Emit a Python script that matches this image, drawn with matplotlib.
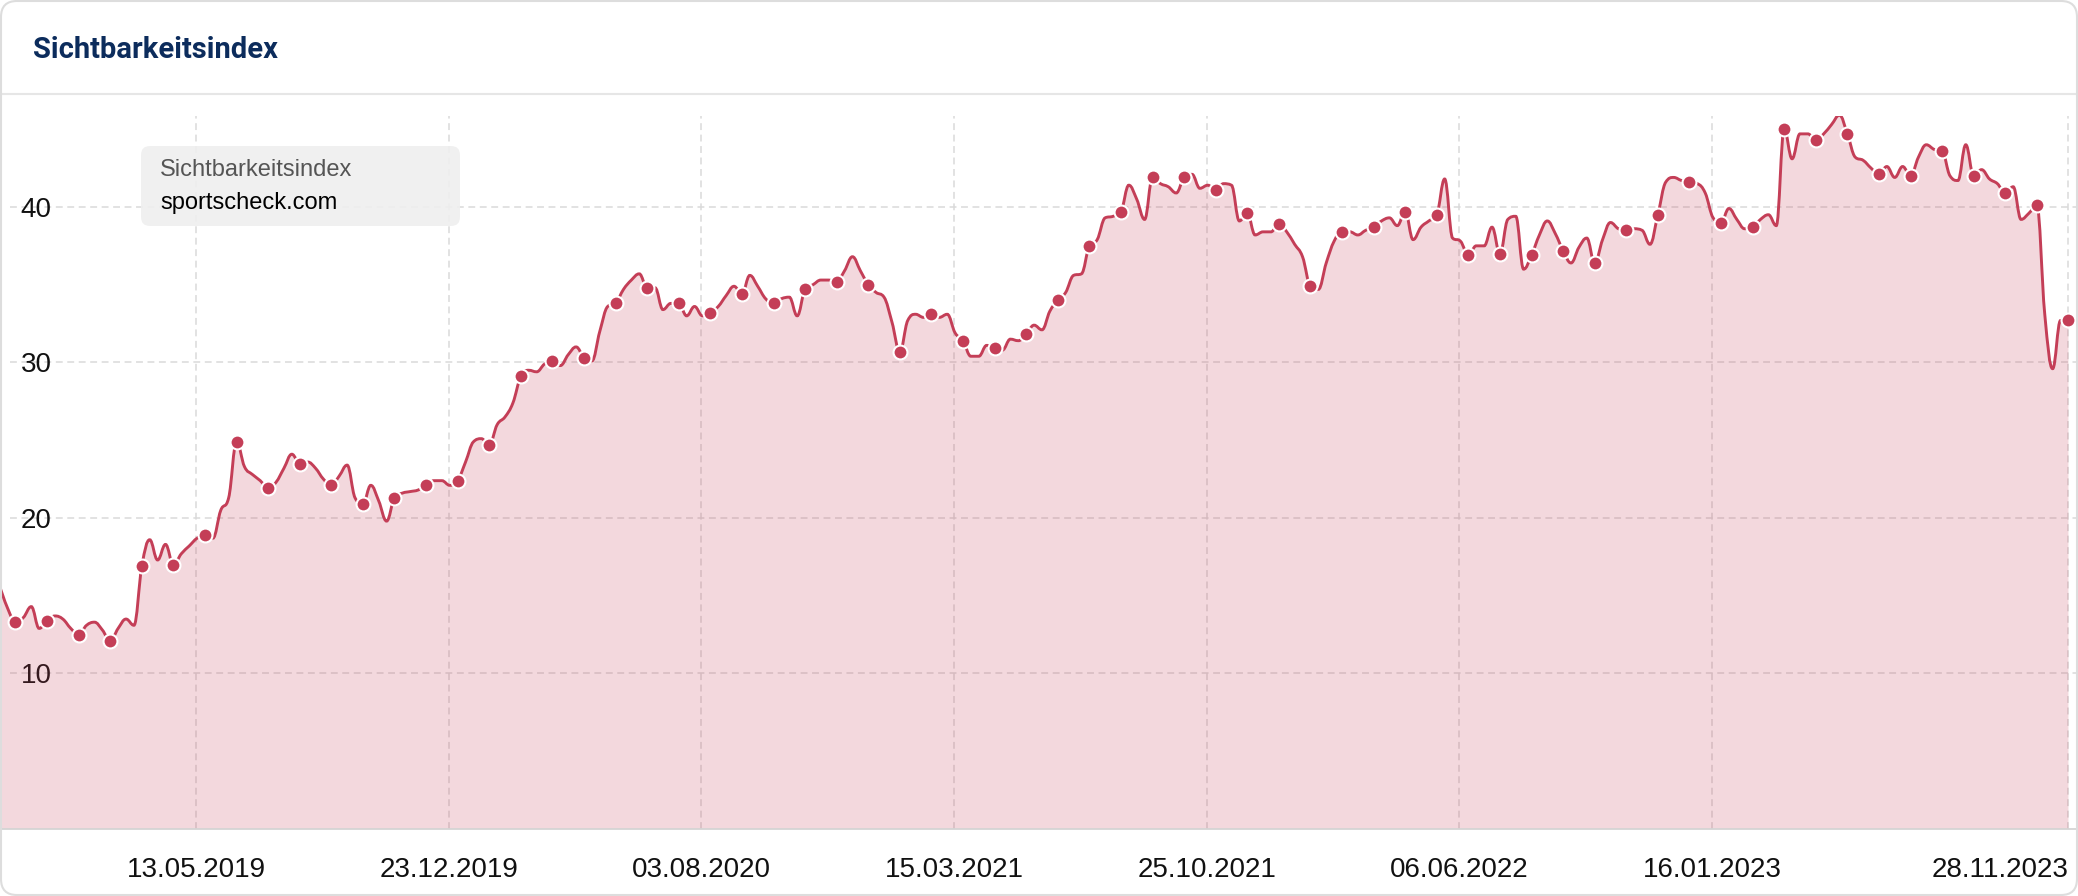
import datetime as dt
import matplotlib
matplotlib.use("Agg")
import matplotlib.pyplot as plt
import matplotlib.dates as mdates
from matplotlib.path import Path
from matplotlib.patches import PathPatch, FancyBboxPatch
from matplotlib.lines import Line2D

# weekly visibility index, sportscheck.com
start = dt.date(2018, 11, 20)
values = [
    15.6, 14.2, 13.3, 13.6, 14.3, 12.9, 13.4, 13.7, 13.5, 12.9,
    12.5, 13.1, 13.3, 12.8, 12.1, 12.9, 13.5, 13.1, 16.9, 18.6,
    17.3, 18.3, 17.0, 17.7, 18.2, 18.7, 18.9, 18.7, 20.5, 21.3,
    24.9, 23.3, 22.8, 22.4, 21.9, 22.3, 23.2, 24.1, 23.5, 23.6,
    23.2, 22.5, 22.1, 22.7, 23.4, 21.3, 20.9, 22.1, 21.1, 19.8,
    21.3, 21.6, 21.7, 21.8, 22.1, 22.4, 22.4, 22.1, 22.4, 23.6,
    24.9, 25.1, 24.7, 26.0, 26.5, 27.4, 29.1, 29.5, 29.4, 29.9,
    30.1, 29.8, 30.5, 31.0, 30.3, 30.1, 32.0, 33.6, 33.8, 34.7,
    35.3, 35.7, 34.8, 34.8, 33.4, 33.8, 33.8, 33.0, 33.6, 33.0,
    33.2, 33.6, 34.3, 34.9, 34.4, 35.6, 34.9, 34.1, 33.8, 34.1,
    34.2, 33.0, 34.7, 35.0, 35.3, 35.3, 35.2, 35.9, 36.8, 35.9,
    35.0, 34.5, 34.2, 32.6, 30.7, 32.7, 33.1, 32.9, 33.1, 32.9,
    33.1, 31.9, 31.4, 30.4, 30.4, 31.1, 30.9, 30.8, 31.5, 31.4,
    31.8, 32.4, 32.1, 33.3, 34.0, 34.5, 35.6, 35.7, 37.5, 37.9,
    39.3, 39.4, 39.7, 41.4, 40.5, 39.2, 41.9, 41.5, 41.3, 40.9,
    41.9, 42.1, 41.2, 41.4, 41.1, 41.5, 41.4, 39.1, 39.6, 38.2,
    38.4, 38.4, 38.9, 38.4, 37.6, 36.8, 34.9, 34.7, 36.4, 37.8,
    38.4, 38.4, 38.2, 38.5, 38.7, 39.1, 39.3, 38.8, 39.7, 37.9,
    38.7, 39.1, 39.5, 41.8, 38.0, 37.8, 36.9, 37.5, 37.5, 38.7,
    37.0, 39.2, 39.4, 36.0, 36.9, 38.2, 39.1, 38.3, 37.2, 36.4,
    37.4, 38.0, 36.4, 37.9, 39.0, 38.6, 38.5, 38.6, 38.5, 37.6,
    39.5, 41.6, 41.9, 41.7, 41.6, 41.5, 40.9, 39.3, 39.0, 39.9,
    39.2, 38.6, 38.7, 39.2, 39.5, 38.8, 45.0, 43.1, 44.7, 44.7,
    44.3, 44.7, 45.3, 45.9, 44.7, 43.2, 43.0, 42.5, 42.1, 42.6,
    41.9, 42.6, 42.0, 43.2, 44.0, 43.7, 43.6, 42.0, 41.7, 44.0,
    42.0, 42.4, 41.8, 41.5, 40.9, 41.3, 39.2, 39.6, 40.1, 33.1,
    29.6, 32.7, 32.7,
]
dates = [start + dt.timedelta(weeks=k) for k in range(len(values))]
marker_idx = list(range(2, len(values), 4))

tick_dates = [dt.date(2019, 5, 13), dt.date(2019, 12, 23), dt.date(2020, 8, 3),
              dt.date(2021, 3, 15), dt.date(2021, 10, 25), dt.date(2022, 6, 6),
              dt.date(2023, 1, 16), dt.date(2023, 11, 28)]
tick_labels = [d.strftime("%d.%m.%Y") for d in tick_dates]
y_ticks = [10, 20, 30, 40]

RED = "#c43e57"
GRID = "#dadada"


def spline_verts(x, y, smoothing=1.5):
    # same control point rule as a Highcharts spline
    denom = smoothing + 1
    n = len(x)
    lc, rc = [None] * n, [None] * n
    for i in range(n):
        if 0 < i < n - 1:
            lx = (smoothing * x[i] + x[i - 1]) / denom
            ly = (smoothing * y[i] + y[i - 1]) / denom
            rx = (smoothing * x[i] + x[i + 1]) / denom
            ry = (smoothing * y[i] + y[i + 1]) / denom
            corr = (ry - ly) * (rx - x[i]) / (rx - lx) + y[i] - ry
            ly += corr
            ry += corr
            if ly > y[i - 1] and ly > y[i]:
                ly = max(y[i - 1], y[i]); ry = 2 * y[i] - ly
            elif ly < y[i - 1] and ly < y[i]:
                ly = min(y[i - 1], y[i]); ry = 2 * y[i] - ly
            if ry > y[i + 1] and ry > y[i]:
                ry = max(y[i + 1], y[i]); ly = 2 * y[i] - ry
            elif ry < y[i + 1] and ry < y[i]:
                ry = min(y[i + 1], y[i]); ly = 2 * y[i] - ry
            lc[i], rc[i] = (lx, ly), (rx, ry)
        else:
            lc[i] = rc[i] = (x[i], y[i])
    verts, codes = [(x[0], y[0])], [Path.MOVETO]
    for i in range(1, n):
        verts += [rc[i - 1], lc[i], (x[i], y[i])]
        codes += [Path.CURVE4] * 3
    return verts, codes


W, H = 2078, 896
fig = plt.figure(figsize=(W / 100, H / 100), dpi=100)
ax = fig.add_axes([0, (H - 829) / H, 1, 713 / H])

xs = mdates.date2num(dates)
x0 = mdates.date2num(start) + 0.27
ax.set_xlim(x0, x0 + W / 1.128)
ax.set_ylim(0, 45.85)

verts, codes = spline_verts(list(xs), values)
line = PathPatch(Path(verts, codes), fill=False, edgecolor=RED, lw=2.1, zorder=4)
area = PathPatch(Path(verts + [(xs[-1], 0), (xs[0], 0), (xs[0], 0)],
                      codes + [Path.LINETO, Path.LINETO, Path.CLOSEPOLY]),
                 facecolor=RED, alpha=0.2, edgecolor="none", zorder=2)
ax.add_patch(area)
ax.add_patch(line)
ax.plot(xs[marker_idx], [values[k] for k in marker_idx], "o", ms=10,
        mfc=RED, mec="white", mew=1.5, zorder=5)

for yt in y_ticks:
    ax.axhline(yt, xmin=0.005, color=GRID, lw=1.1, dashes=(4.5, 3), zorder=1)
for td in tick_dates:
    ax.axvline(mdates.date2num(td), color=GRID, lw=1.1, dashes=(4.5, 3), zorder=1)

for s in ["top", "left", "right"]:
    ax.spines[s].set_visible(False)
ax.spines["bottom"].set_color("#d4d4d4")
ax.spines["bottom"].set_linewidth(1.3)

ax.set_xticks(mdates.date2num(tick_dates))
ax.set_xticklabels(tick_labels, fontsize=20, family="Liberation Sans", color="#111111")
ax.get_xticklabels()[-1].set_ha("right")
ax.tick_params(axis="x", length=0, pad=20)
ax.set_yticks(y_ticks)
ax.set_yticklabels([str(v) for v in y_ticks], fontsize=20, family="Liberation Sans",
                   color="#111111", ha="left")
ax.tick_params(axis="y", length=0, pad=-15)
ax.set_facecolor("none")

# header
fig.text(33 / W, 1 - 50 / H, "Sichtbarkeitsindex", fontsize=21, fontweight="bold",
         family="Roboto", color="#0c2c5c", va="center")
fig.add_artist(Line2D([0, 1], [1 - 94 / H] * 2, color="#e6e6e6", lw=1.5))

# legend-like label box
box = FancyBboxPatch((141, H - 226), 319, 80, boxstyle="round,pad=0,rounding_size=9",
                     transform=None, fc="#efefef", ec="none", alpha=0.9, zorder=6)
fig.add_artist(box)
fig.text(160 / W, 1 - 170 / H, "Sichtbarkeitsindex", fontsize=17, family="Liberation Sans",
         color="#555555", va="center", zorder=7)
fig.text(160 / W, 1 - 203 / H, "sportscheck.com", fontsize=17, family="Liberation Sans",
         color="#000000", va="center", zorder=7)

card = FancyBboxPatch((1, 1), W - 2, H - 2, boxstyle="round,pad=0,rounding_size=16",
                      transform=None, fc="none", ec="#dddddd", lw=1.5, zorder=10)
fig.add_artist(card)

fig.savefig("out.png", dpi=100, facecolor="white")
